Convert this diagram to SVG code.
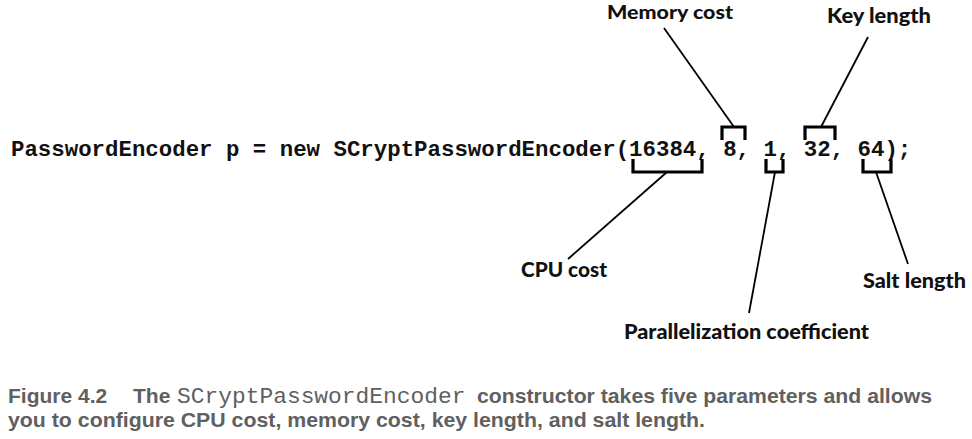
<svg xmlns="http://www.w3.org/2000/svg" width="972" height="439" viewBox="0 0 972 439">
<style>
.code{font-family:"Liberation Mono","Courier New",monospace;font-weight:bold;font-size:22.4px;fill:#111}
.lbl{font-family:Lato,"Open Sans",sans-serif;font-weight:900;font-size:20px;fill:#111}
.cap{font-family:"Liberation Sans",Arial,sans-serif;font-weight:bold;font-size:21px;fill:#606060}
.capm{font-family:"Liberation Mono","Courier New",monospace;font-weight:normal;font-size:22.9px;fill:#606060}
.br{fill:none;stroke:#000;stroke-width:3.2}
.ln{fill:none;stroke:#000;stroke-width:1.8}
</style>
<rect width="972" height="439" fill="#fff"/>
<g id="code"><text class="code" x="11" y="156">PasswordEncoder p = new SCryptPasswordEncoder(16384, 8, 1, 32, 64);</text></g>
<g id="brackets">
<path class="br" d="M633 159V172H702V159"/>
<path class="br" d="M722 140V127H745V140"/>
<path class="br" d="M766 159V172H783V159"/>
<path class="br" d="M805 140V127H835V140"/>
<path class="br" d="M863 159V172H891V159"/>
</g>
<g id="connectors">
<line class="ln" x1="664" y1="28" x2="734" y2="127"/>
<line class="ln" x1="868" y1="37" x2="821" y2="127"/>
<line class="ln" x1="667" y1="172" x2="568" y2="259"/>
<line class="ln" x1="775" y1="172" x2="749" y2="313"/>
<line class="ln" x1="876" y1="172" x2="908" y2="264"/>
</g>
<g id="memory-cost"><text class="lbl" x="607" y="19" style="font-size:19px" textLength="126" lengthAdjust="spacingAndGlyphs">Memory cost</text></g>
<g id="key-length"><text class="lbl" x="827" y="23" textLength="104" lengthAdjust="spacingAndGlyphs">Key length</text></g>
<g id="cpu-cost"><text class="lbl" x="521" y="277" textLength="86" lengthAdjust="spacingAndGlyphs">CPU cost</text></g>
<g id="salt-length"><text class="lbl" x="863" y="288" textLength="103" lengthAdjust="spacingAndGlyphs">Salt length</text></g>
<g id="parallelization"><text class="lbl" x="624" y="339" textLength="245" lengthAdjust="spacingAndGlyphs">Parallelization coefficient</text></g>
<g id="caption">
<text class="cap" x="8" y="403">Figure 4.2</text>
<text class="cap" x="133" y="403">The</text>
<text class="capm" x="177" y="403">SCryptPasswordEncoder</text>
<text class="cap" x="477" y="403" textLength="455" lengthAdjust="spacingAndGlyphs">constructor takes five parameters and allows</text>
<text class="cap" x="8" y="427" textLength="697" lengthAdjust="spacingAndGlyphs">you to configure CPU cost, memory cost, key length, and salt length.</text>
</g>
</svg>
